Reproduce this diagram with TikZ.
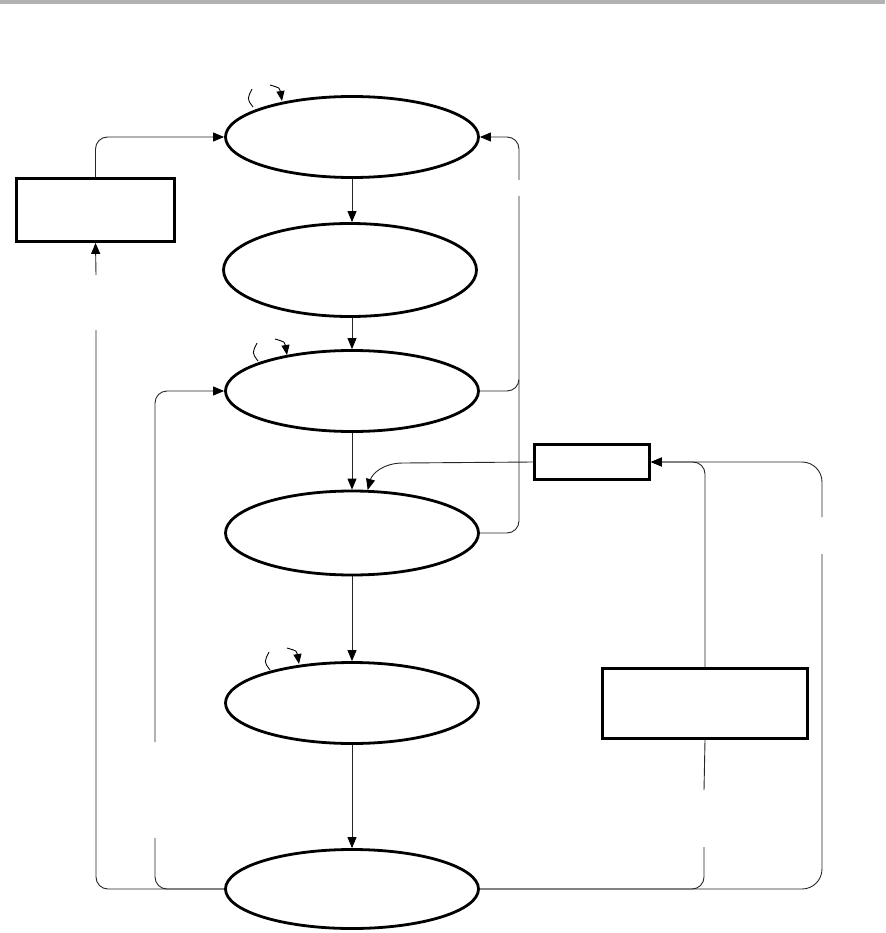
\documentclass[tikz,border=0pt]{standalone}
\usetikzlibrary{shapes.geometric,arrows.meta,calc}
\tikzset{
  state/.style={ellipse,draw,line width=2.8pt,minimum width=253pt,minimum height=81pt,inner sep=0pt},
  box/.style={rectangle,draw,line width=2.8pt,fill=white,inner sep=0pt},
  conn/.style={line width=0.9pt,black!85},
  tip/.style={-{Triangle[length=11pt,width=9pt,color=black]}},
}
\newcommand{\initmark}[1]{%
  \draw[line width=0.9pt] ($(#1)+(-29,6)$) .. controls ($(#1)+(-35,-2)$) .. ($(#1)+(-30,-12)$);
  \draw[line width=0.9pt,-{Triangle[length=10pt,width=8pt]}] ($(#1)+(-12,-16)$) .. controls ($(#1)+(-2,-13)$) .. (#1);
}
\begin{document}
\begin{tikzpicture}[x=1pt,y=-1pt]
  \useasboundingbox (0,0) rectangle (885,933);
  \fill[black!30] (0,0) rectangle (885,4);

  \node[state] (e1) at (352,137) {};
  \node[state,minimum height=93pt] (e2) at (350,270) {};
  \node[state] (e3) at (352,391) {};
  \node[state,minimum height=84pt] (e4) at (352,533) {};
  \node[state] (e5) at (352,703) {};
  \node[state,minimum height=79pt] (e6) at (352,889) {};

  \node[box,minimum width=158pt,minimum height=63pt] (left) at (95.5,210) {};
  \node[box,minimum width=115pt,minimum height=35pt] (mrect) at (592,462) {};
  \node[box,minimum width=205pt,minimum height=70pt] (note) at (705,703.5) {};

  \coordinate (m1) at (282,101);
  \coordinate (m3) at (287,355);
  \coordinate (m5) at (299,664);
  \initmark{m1}
  \initmark{m3}
  \initmark{m5}

  \draw[conn,tip] (e1.south) -- (e1.south |- e2.north);
  \draw[conn,tip] (e1.south |- e2.south) -- (e3.north);
  \draw[conn,tip] (e3.south) -- (e4.north);
  \draw[conn,tip] (e4.south) -- (e5.north);
  \draw[conn,tip] (e5.south) -- (e6.north);

  \draw[conn,tip,rounded corners=12] (left.north) |- (e1.west);
  \draw[conn,rounded corners=12] (e6.west) -| (96,330);
  \draw[conn,tip] (96,275) -- (left.south);
  \draw[conn,rounded corners=12] (e6.west) -| (155,838);
  \draw[conn,tip,rounded corners=12] (155,742) |- (e3.west);

  \draw[conn,rounded corners=12] (e3.east) -| (519,196);
  \draw[conn,tip,rounded corners=12] (519,180) |- (e1.east);
  \draw[conn,rounded corners=12] (e4.east) -| (519,380);

  \draw[conn,tip] (mrect.west) -- (403,463) .. controls (383,463) and (372,474) .. (e4.70);

  \draw[conn,rounded corners=12] (e6.east) -| (704,847);
  \draw[conn] (704,790) -- (note.south);
  \draw[conn,tip,rounded corners=12] (note.north) |- (mrect.east);
  \draw[conn,rounded corners=20] (e6.east) -| (822,554);
  \draw[conn,tip,rounded corners=20] (822,517) |- (mrect.east);
\end{tikzpicture}
\end{document}
